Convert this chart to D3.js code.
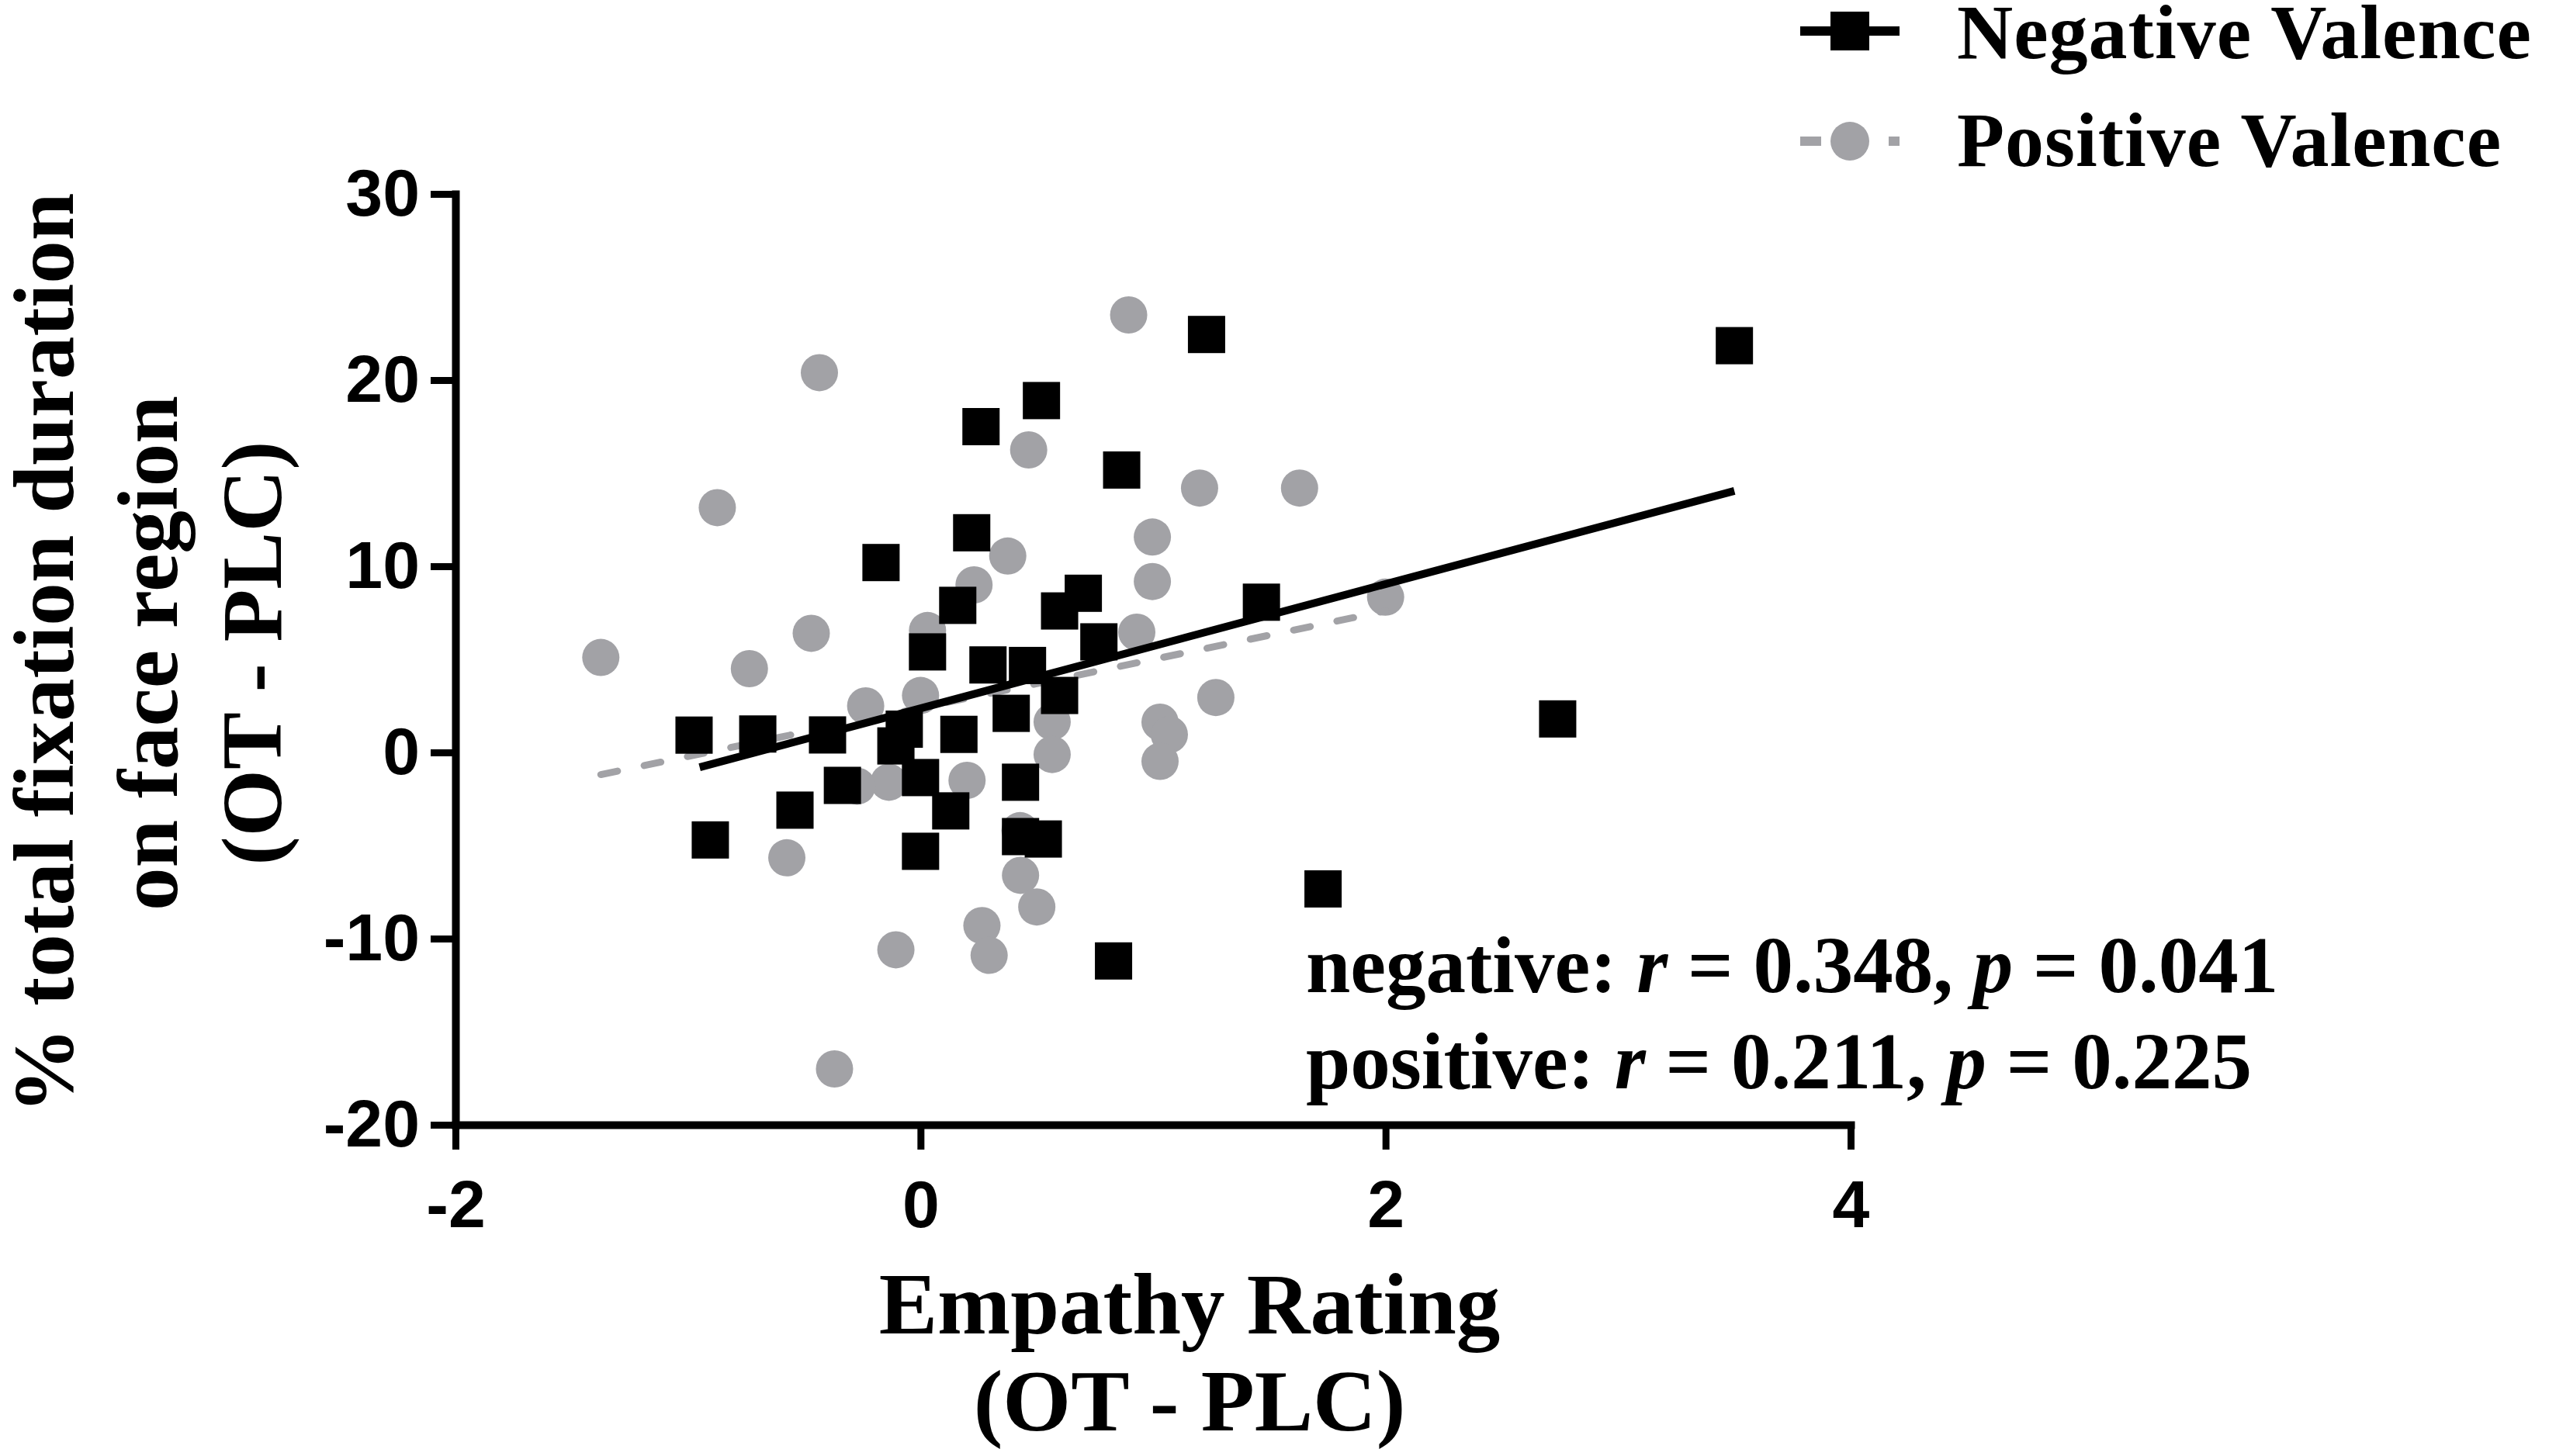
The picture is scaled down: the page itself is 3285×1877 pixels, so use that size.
<!DOCTYPE html>
<html>
<head>
<meta charset="utf-8">
<script src="https://cdn.jsdelivr.net/npm/d3@7"></script>
<style>
  body { margin: 0; background: #fff; }
  text { fill: #000; }
</style>
</head>
<body>
<div id="chart"></div>
<script>
// negative valence (black squares)
var negX = [3.50, 1.23, 0.52, 0.26, 0.865, 0.22, -0.17, 0.70, 0.16, 0.598, 1.466, 0.767, 0.03, 0.29, 0.46, 0.598, 0.39, 2.74,
            -0.974, -0.70, -0.40, -0.07, 0.165, -0.106, 0.0, -0.336, 0.43, -0.54, 0.13, -0.904, 0.43, 0.528, 0.0, 1.731, 0.83];
var negY = [21.85, 22.45, 18.9, 17.5, 15.17, 11.8, 10.2, 8.55, 7.9, 7.6, 8.07, 5.94, 5.4, 4.7, 4.67, 3.06, 2.1, 1.8,
            0.93, 0.99, 0.94, 1.25, 0.97, 0.35, -1.35, -1.77, -1.6, -3.1, -3.14, -4.7, -4.52, -4.65, -5.31, -7.33, -11.2];
// positive valence (grey circles)
var posX = [0.895, -0.435, 0.465, 1.2, 1.63, -0.874, 0.997, 0.375, 0.23, 0.997, 2.0, 0.03, -0.47, 0.93, -1.375, -0.736, -0.236, 0.0,
            1.27, 0.566, 1.03, 1.07, 0.566, 1.03, -0.136, 0.2, -0.273, 0.428, -0.575, 0.43, 0.5, 0.264, -0.106, 0.295, -0.37];
var posY = [23.5, 20.4, 16.25, 14.2, 14.2, 13.15, 11.57, 10.55, 9.0, 9.18, 8.34, 6.55, 6.4, 6.46, 5.1, 4.5, 2.5, 3.06,
            2.95, 1.64, 1.63, 0.96, -0.11, -0.48, -1.6, -1.5, -1.81, -4.2, -5.66, -6.6, -8.3, -9.3, -10.6, -10.9, -17.0];
// regression lines (end points)
var negFitX = [-0.95, 3.5], negFitY = [-0.8, 14.05];
var posFitX = [-1.375, 2.0], posFitY = [-1.19, 7.6];

var xTicks = [-2, 0, 2, 4];
var yTicks = [-20, -10, 0, 10, 20, 30];
var seriesNames = ["Negative Valence", "Positive Valence"];
var statNames = ["negative", "positive"];
var statR = ["0.348", "0.211"];
var statP = ["0.041", "0.225"];

var width = 3285, height = 1877;
var grey = "#a2a2a6";
var serif = "'Liberation Serif', 'Times New Roman', serif";
var sans = "'Liberation Sans', Arial, sans-serif";

var svg = d3.select("#chart").append("svg")
  .attr("width", width)
  .attr("height", height);

var x = d3.scaleLinear().domain([-2, 4]).range([587, 2385]);
var y = d3.scaleLinear().domain([-20, 30]).range([1450, 250]);

// axes
var xAxis = svg.append("g")
  .attr("transform", "translate(0," + y(-20) + ")")
  .call(d3.axisBottom(x).tickValues(xTicks).tickFormat(d => String(d))
    .tickSize(32).tickSizeOuter(0).tickPadding(39));

var yAxis = svg.append("g")
  .attr("transform", "translate(" + x(-2) + ",0)")
  .call(d3.axisLeft(y).tickValues(yTicks).tickFormat(d => String(d))
    .tickSize(32).tickSizeOuter(0).tickPadding(14));

[xAxis, yAxis].forEach(function(g) {
  g.select(".domain").attr("stroke", "#000").attr("stroke-width", 10).attr("stroke-linecap", "square");
  g.selectAll(".tick line").attr("stroke", "#000").attr("stroke-width", 9);
  g.selectAll(".tick text").attr("fill", "#000")
    .style("font-family", sans).style("font-weight", "bold").style("font-size", "86px");
});

// points
var posData = posX.map((v, i) => ({x: v, y: posY[i]}));
var negData = negX.map((v, i) => ({x: v, y: negY[i]}));

svg.append("g").selectAll("circle")
  .data(posData)
  .enter()
  .append("circle")
  .attr("cx", d => x(d.x))
  .attr("cy", d => y(d.y))
  .attr("r", 24)
  .style("fill", grey);

var line = d3.line().x(d => x(d[0])).y(d => y(d[1]));

svg.append("path")
  .attr("d", line(posFitX.map((v, i) => [v, posFitY[i]])))
  .attr("fill", "none")
  .attr("stroke", grey)
  .attr("stroke-width", 9)
  .attr("stroke-linecap", "round")
  .attr("stroke-dasharray", "22 35");

var sq = 48;
svg.append("g").selectAll("rect")
  .data(negData)
  .enter()
  .append("rect")
  .attr("x", d => x(d.x) - sq / 2)
  .attr("y", d => y(d.y) - sq / 2)
  .attr("width", sq)
  .attr("height", sq)
  .style("fill", "#000");

svg.append("path")
  .attr("d", line(negFitX.map((v, i) => [v, negFitY[i]])))
  .attr("fill", "none")
  .attr("stroke", "#000")
  .attr("stroke-width", 10);

// axis titles
var xTitle = svg.append("text")
  .attr("text-anchor", "middle")
  .style("font-family", serif).style("font-weight", "bold").style("font-size", "113px");
xTitle.append("tspan").attr("x", 1533).attr("y", 1719).text("Empathy Rating");
xTitle.append("tspan").attr("x", 1533).attr("y", 1844).text("(OT - PLC)");

var yTitleLines = ["% total fixation duration", "on face region", "(OT - PLC)"];
var yBase = [94, 228, 362];
svg.append("g").selectAll("text")
  .data(yTitleLines)
  .enter()
  .append("text")
  .attr("transform", (d, i) => "translate(" + yBase[i] + ",842) rotate(-90)")
  .attr("text-anchor", "middle")
  .style("font-family", serif).style("font-weight", "bold").style("font-size", "111px")
  .text(d => d);

// statistics
var stat = svg.append("g")
  .style("font-family", serif).style("font-weight", "bold").style("font-size", "103px");
statNames.forEach(function(name, i) {
  var t = stat.append("text").attr("x", 1683).attr("y", 1279 + i * 124);
  t.append("tspan").text(name + ": ");
  t.append("tspan").style("font-style", "italic").text("r");
  t.append("tspan").text(" = " + statR[i] + ", ");
  t.append("tspan").style("font-style", "italic").text("p");
  t.append("tspan").text(" = " + statP[i]);
});

// legend
var legend = svg.append("g");
legend.append("line")
  .attr("x1", 2320).attr("x2", 2448).attr("y1", 40).attr("y2", 40)
  .attr("stroke", "#000").attr("stroke-width", 12);
legend.append("rect")
  .attr("x", 2384 - 25).attr("y", 40 - 25).attr("width", 50).attr("height", 50)
  .style("fill", "#000");
legend.append("line")
  .attr("x1", 2320).attr("x2", 2448).attr("y1", 182).attr("y2", 182)
  .attr("stroke", grey).attr("stroke-width", 12)
  .attr("stroke-dasharray", "27 87 14");
legend.append("circle")
  .attr("cx", 2384).attr("cy", 182).attr("r", 25)
  .style("fill", grey);

legend.selectAll("text")
  .data(seriesNames)
  .enter()
  .append("text")
  .attr("x", 2522)
  .attr("y", (d, i) => 75 + i * 139)
  .style("font-family", serif).style("font-weight", "bold").style("font-size", "100px")
  .style("letter-spacing", "1px")
  .text(d => d);
</script>
</body>
</html>
